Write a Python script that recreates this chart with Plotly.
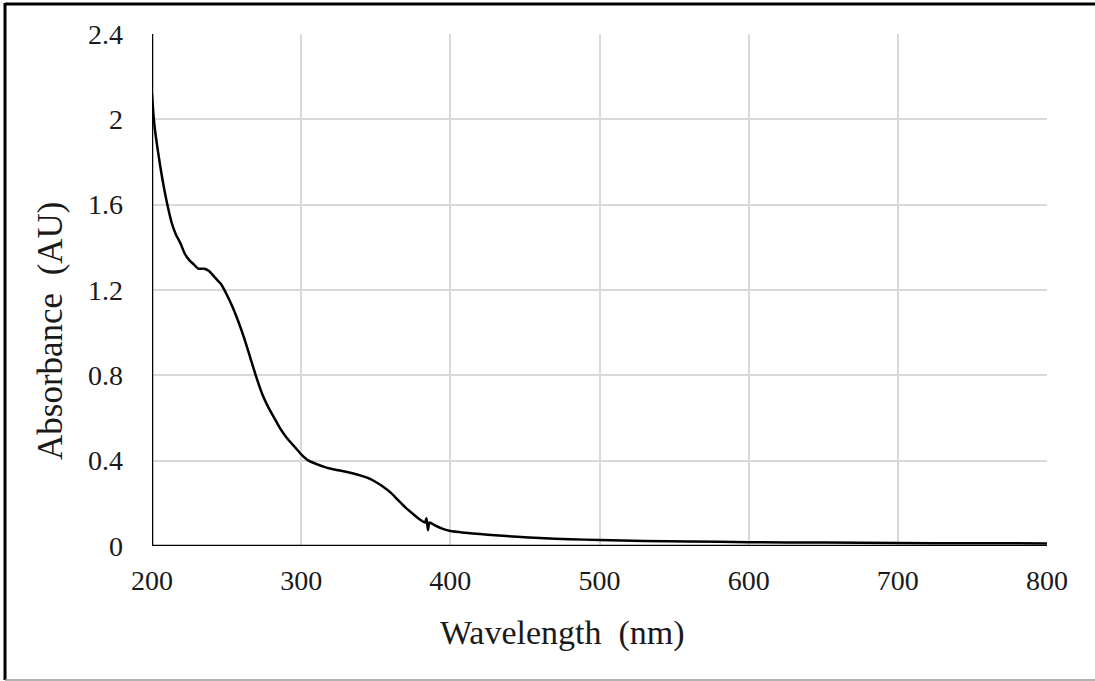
import plotly.graph_objects as go

wavelength = [200, 201, 202, 204, 206, 208, 210, 213, 216, 219, 222, 225, 228, 231, 235, 238,
              242, 246, 250, 254, 258, 262, 266, 270, 274, 278, 282, 286, 290, 295, 300, 305,
              310, 315, 320, 325, 330, 335, 340, 345, 350, 355, 360, 365, 370, 375, 380, 383,
              384, 385, 386, 390, 395, 400, 410, 420, 430, 445, 460, 480, 500, 530, 560, 600,
              650, 700, 750, 800]
absorbance = [2.12, 2.02, 1.95, 1.85, 1.76, 1.68, 1.61, 1.52, 1.46, 1.42, 1.37, 1.34, 1.32, 1.30, 1.30, 1.29,
              1.26, 1.23, 1.18, 1.12, 1.05, 0.97, 0.88, 0.79, 0.71, 0.65, 0.60, 0.55, 0.51, 0.47, 0.43, 0.40,
              0.385, 0.372, 0.362, 0.355, 0.348, 0.34, 0.33, 0.318, 0.30, 0.278, 0.25, 0.215, 0.18, 0.15, 0.122, 0.11,
              0.13, 0.075, 0.11, 0.095, 0.08, 0.07, 0.062, 0.056, 0.05, 0.043, 0.037, 0.032, 0.028, 0.024, 0.021, 0.018,
              0.016, 0.014, 0.013, 0.012]

x_ticks = [200, 300, 400, 500, 600, 700, 800]
y_ticks = [0, 0.4, 0.8, 1.2, 1.6, 2.0, 2.4]
y_tick_labels = ["0", "0.4", "0.8", "1.2", "1.6", "2", "2.4"]
x_title = "Wavelength\u00a0 (nm)"
y_title = "Absorbance\u00a0 (AU)"

FONT = "Liberation Serif"
TXT = "#1a1a1a"

fig = go.Figure()
fig.add_trace(go.Scatter(x=wavelength, y=absorbance, mode="lines",
                         line=dict(color="black", width=2.5, shape="spline", smoothing=0.6),
                         showlegend=False, hoverinfo="skip"))

W, H = 1095, 681
L, R, T, B = 152, 48, 34, 135
pw, ph = W - L - R, H - T - B

def px(xp):
    return (xp - L) / pw

def py(yp):
    return (H - B - yp) / ph

fig.update_layout(
    width=W, height=H,
    margin=dict(l=L, r=R, t=T, b=B, autoexpand=False),
    paper_bgcolor="white", plot_bgcolor="white",
    font=dict(family=FONT, color=TXT, size=27),
    xaxis=dict(range=[200, 800], tickvals=x_ticks, ticktext=[str(v) for v in x_ticks],
               showgrid=True, gridcolor="#d9d9d9", gridwidth=1.5,
               showline=False, zeroline=False, ticks="", ticklabelstandoff=15,
               tickfont=dict(family=FONT, size=28, color=TXT), automargin=False),
    yaxis=dict(range=[0, 2.4], tickvals=y_ticks, ticktext=y_tick_labels,
               showgrid=True, gridcolor="#d9d9d9", gridwidth=1.5,
               showline=False, zeroline=False, ticks="", ticklabelstandoff=28,
               tickfont=dict(family=FONT, size=28, color=TXT), automargin=False),
    annotations=[
        dict(text=x_title, xref="paper", yref="paper", x=px(562), y=py(633),
             xanchor="center", yanchor="middle", showarrow=False,
             font=dict(family=FONT, size=34, color=TXT)),
        dict(text=y_title, xref="paper", yref="paper", x=px(50), y=py(331),
             xanchor="center", yanchor="middle", showarrow=False, textangle=-90,
             font=dict(family=FONT, size=35, color=TXT)),
    ],
    shapes=[
        # axis lines
        dict(type="line", xref="x", yref="paper", x0=200, x1=200, y0=0, y1=1,
             line=dict(color="black", width=2.5), layer="above"),
        dict(type="line", xref="paper", yref="y", x0=0, x1=1, y0=0, y1=0,
             line=dict(color="black", width=2.5), layer="above"),
        # outer frame
        dict(type="line", xref="paper", yref="paper", x0=px(5), x1=px(5), y0=py(3), y1=py(680),
             line=dict(color="black", width=3)),
        dict(type="line", xref="paper", yref="paper", x0=px(5), x1=px(1095), y0=py(4), y1=py(4),
             line=dict(color="black", width=3)),
        dict(type="line", xref="paper", yref="paper", x0=px(5), x1=px(1095), y0=py(680), y1=py(680),
             line=dict(color="#999999", width=1.5)),
    ],
)

fig.write_html("out.html")
